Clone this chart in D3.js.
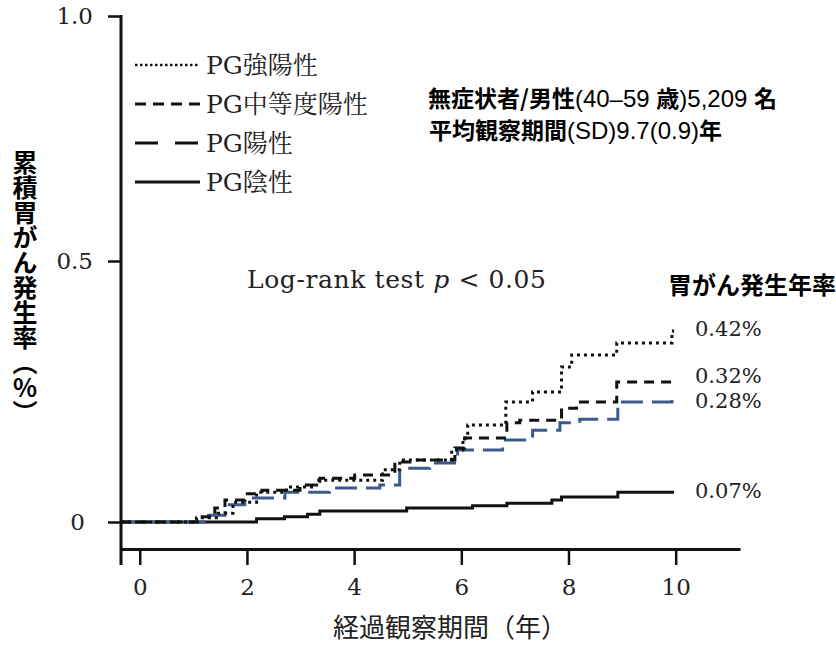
<!DOCTYPE html>
<html>
<head>
<meta charset="utf-8">
<script src="https://cdn.jsdelivr.net/npm/d3@7"></script>
<style>
  body { margin: 0; background: #fff; }
  svg { display: block; }
</style>
</head>
<body>
<div id="chart"></div>
<script>
// 累積胃がん発生率 [年, 値]
var pgStrong = [[-0.35, 0], [1.06, 0.008], [1.46, 0.017], [1.74, 0.038], [2.18, 0.057], [2.74, 0.067],
  [3.30, 0.080], [4.53, 0.100], [4.85, 0.119], [5.82, 0.138], [6.03, 0.161], [6.12, 0.186],
  [6.83, 0.230], [7.33, 0.249], [7.87, 0.297], [8.06, 0.320], [8.90, 0.343], [9.93, 0.366], [9.97, 0.366]];
var pgModerate = [[-0.35, 0], [1.12, 0.010], [1.40, 0.027], [1.59, 0.042], [1.96, 0.054], [2.28, 0.061],
  [2.99, 0.071], [3.36, 0.084], [4.01, 0.090], [4.76, 0.115], [5.04, 0.119], [5.88, 0.142],
  [6.06, 0.161], [6.85, 0.190], [7.09, 0.195], [7.87, 0.218], [8.15, 0.230], [8.90, 0.268], [9.97, 0.268]];
var pgPositive = [[-0.35, 0], [1.21, 0.013], [1.59, 0.033], [1.96, 0.046], [2.71, 0.057], [3.54, 0.065],
  [4.48, 0.071], [4.85, 0.103], [5.41, 0.113], [5.93, 0.138], [6.77, 0.157], [7.33, 0.176],
  [7.84, 0.190], [8.21, 0.197], [8.92, 0.230], [9.93, 0.239], [9.97, 0.239]];
var pgNegative = [[-0.35, 0], [2.18, 0.006], [2.70, 0.010], [3.13, 0.015], [3.36, 0.021], [4.98, 0.027],
  [6.21, 0.031], [6.85, 0.036], [7.69, 0.042], [7.87, 0.048], [8.92, 0.057], [9.97, 0.057]];

var seriesNames = ["PG強陽性", "PG中等度陽性", "PG陽性", "PG陰性"];
var rateLabels = ["0.42%", "0.32%", "0.28%", "0.07%"];
var xTicks = [0, 2, 4, 6, 8, 10];
var yTicks = [0, 0.5, 1.0];

var width = 836, height = 648;
var serif = "'DejaVu Serif', 'Noto Serif CJK JP', serif";
var gothic = "'Noto Sans CJK JP', sans-serif";
var sans = "'Liberation Sans', Arial, sans-serif";

var svg = d3.select("#chart").append("svg")
    .attr("width", width)
    .attr("height", height);

var x = d3.scaleLinear().domain([-0.35, 11.2]).range([121, 740]);
var y = d3.scaleLinear().domain([0, 0.5, 1]).range([522, 261, 16]);
var axisY = 549;

// 線の種類
var styles = [
    {color: "#111", dash: "3,4", legendDash: "2.5,2.5", width: 3},
    {color: "#111", dash: "10,7", legendDash: "11,7", width: 3},
    {color: "#3b5b8c", dash: "22,9", legendDash: "23,17", width: 3},
    {color: "#111", dash: null, legendDash: null, width: 3}
];
var allSeries = [pgStrong, pgModerate, pgPositive, pgNegative];

// 軸
var gx = svg.append("g")
    .attr("transform", "translate(0," + axisY + ")")
    .call(d3.axisBottom(x).tickValues(xTicks).tickSize(16).tickSizeOuter(0).tickPadding(14)
        .tickFormat(d3.format("d")));
gx.select(".domain").attr("stroke", "#111").attr("stroke-width", 3);
gx.selectAll(".tick line").attr("stroke", "#111").attr("stroke-width", 2.5);
gx.selectAll(".tick text").attr("fill", "#222").style("font-family", serif).style("font-size", "23px");

var gy = svg.append("g")
    .attr("transform", "translate(" + x(-0.35) + ",0)")
    .call(d3.axisLeft(y).tickValues(yTicks).tickSize(13).tickSizeOuter(0).tickPadding(15)
        .tickFormat(function (d) { return d === 0 ? "0" : d3.format(".1f")(d); }));
gy.select(".domain").remove();
gy.selectAll(".tick line").attr("stroke", "#111").attr("stroke-width", 2.5);
gy.selectAll(".tick text").attr("fill", "#222").style("font-family", serif).style("font-size", "23px")
    .attr("dx", function (d) { return d === 0 ? -8 : 0; });
svg.append("line")
    .attr("x1", x(-0.35)).attr("x2", x(-0.35))
    .attr("y1", y(1) - 1).attr("y2", axisY + 16)
    .attr("stroke", "#111").attr("stroke-width", 3);

// 曲線
var line = d3.line()
    .curve(d3.curveStepAfter)
    .x(function (d) { return x(d[0]); })
    .y(function (d) { return y(d[1]); });

allSeries.slice().reverse().forEach(function (s, j) {
    var i = allSeries.length - 1 - j;
    svg.append("path")
        .datum(s)
        .attr("d", line)
        .attr("fill", "none")
        .attr("stroke", styles[i].color)
        .attr("stroke-width", styles[i].width)
        .attr("stroke-dasharray", styles[i].dash);
});

// 右端の年率ラベル
var labelDy = [-3, -7, 3, -2];
allSeries.forEach(function (s, i) {
    var last = s[s.length - 1];
    svg.append("text")
        .attr("x", 695)
        .attr("y", y(last[1]) + labelDy[i])
        .attr("dy", "0.36em")
        .style("font-family", serif)
        .style("font-size", "21px")
        .attr("fill", "#222")
        .text(rateLabels[i]);
});

// 凡例
var legendRows = [65, 104, 143, 182];
seriesNames.forEach(function (name, i) {
    svg.append("line")
        .attr("x1", 135).attr("x2", 200)
        .attr("y1", legendRows[i]).attr("y2", legendRows[i])
        .attr("stroke", "#111")
        .attr("stroke-width", i === 0 ? 2.5 : 3)
        .attr("stroke-dasharray", styles[i].legendDash);
    svg.append("text")
        .attr("x", 206)
        .attr("y", legendRows[i])
        .attr("dy", "0.36em")
        .style("font-family", serif)
        .style("font-size", "25px")
        .attr("fill", "#222")
        .text(name);
});

// 注記
var note1 = svg.append("text").attr("x", 428).attr("y", 99).attr("dy", "0.36em")
    .style("font-size", "23px").attr("fill", "#000");
note1.append("tspan").style("font-family", gothic).style("font-weight", 700).text("無症状者/男性");
note1.append("tspan").style("font-family", sans).style("font-size", "24px").text("(40–59 ");
note1.append("tspan").style("font-family", gothic).style("font-weight", 700).text("歳");
note1.append("tspan").style("font-family", sans).style("font-size", "24px").text(")5,209 ");
note1.append("tspan").style("font-family", gothic).style("font-weight", 700).text("名");

var note2 = svg.append("text").attr("x", 429).attr("y", 131).attr("dy", "0.36em")
    .style("font-size", "23px").attr("fill", "#000");
note2.append("tspan").style("font-family", gothic).style("font-weight", 700).text("平均観察期間");
note2.append("tspan").style("font-family", sans).style("font-size", "24px").text("(SD)9.7(0.9)");
note2.append("tspan").style("font-family", gothic).style("font-weight", 700).text("年");

var logrank = svg.append("text").attr("x", 247).attr("y", 279).attr("dy", "0.36em")
    .style("font-family", serif).style("font-size", "25px").style("letter-spacing", "0.6px")
    .attr("fill", "#222");
logrank.append("tspan").text("Log-rank test ");
logrank.append("tspan").style("font-style", "italic").text("p");
logrank.append("tspan").text("  < 0.05");

svg.append("text").attr("x", 668).attr("y", 285).attr("dy", "0.36em")
    .style("font-family", gothic).style("font-weight", 700).style("font-size", "24px")
    .attr("fill", "#000").text("胃がん発生年率");

// 軸タイトル
svg.append("text")
    .attr("x", 450).attr("y", 628).attr("dy", "0.36em")
    .attr("text-anchor", "middle")
    .style("font-family", gothic).style("font-size", "26px")
    .attr("fill", "#222")
    .text("経過観察期間（年）");

svg.append("text")
    .attr("x", 25).attr("y", 150)
    .style("writing-mode", "vertical-rl")
    .style("font-family", gothic).style("font-weight", 700).style("font-size", "25px")
    .attr("fill", "#000")
    .text("累積胃がん発生率（％）");
</script>
</body>
</html>
